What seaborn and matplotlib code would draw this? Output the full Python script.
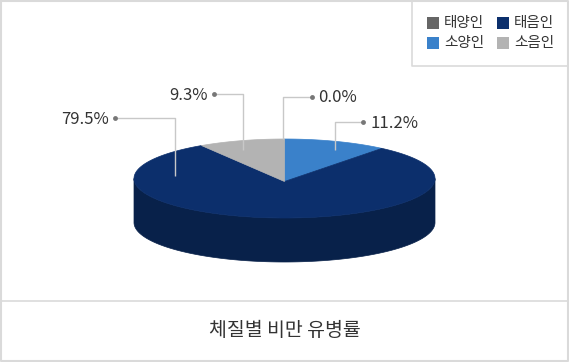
import numpy as np
import matplotlib
matplotlib.use("Agg")
import matplotlib.pyplot as plt
import seaborn as sns
from matplotlib.patches import Polygon, Rectangle

# ---- data ----
categories = ["태양인", "태음인", "소양인", "소음인"]
values = [0.0, 79.5, 11.2, 9.3]
value_labels = ["0.0%", "79.5%", "11.2%", "9.3%"]
pie_order = ["소양인", "태음인", "소음인", "태양인"]  # clockwise from 12 o'clock
title_text = "체질별 비만 유병률"

# ---- styles ----
top_colors = {"태양인": "#666666", "태음인": "#0c2f6c", "소양인": "#3a81ca", "소음인": "#b3b3b3"}
side_colors = {"태양인": "#4a4a4a", "태음인": "#08214a", "소양인": "#2a5f96", "소음인": "#8a8a8a"}
legend_colors = {"태양인": "#666666", "태음인": "#0c2f6c", "소양인": "#3a81ca", "소음인": "#b3b3b3"}

# label layout (pixel positions): dot, elbow, end, text pos, alignment
label_layout = {
    "태양인": dict(dot=(312, 97), elbow=(283, 97), end=(283, 139), text=(318, 97.5), ha="left"),
    "태음인": dict(dot=(115, 118), elbow=(175, 118), end=(175, 176), text=(109, 120), ha="right"),
    "소양인": dict(dot=(363, 122), elbow=(335, 122), end=(335, 150), text=(371, 123.5), ha="left"),
    "소음인": dict(dot=(214, 94), elbow=(243, 94), end=(243, 150), text=(208, 95), ha="right"),
}

sns.set_theme(style="white")
plt.rcParams['font.family'] = ['Noto Sans CJK KR', 'DejaVu Sans']

W, H = 569, 362
fig = plt.figure(figsize=(W / 100, H / 100), dpi=100)
ax = fig.add_axes([0, 0, 1, 1])
ax.set_xlim(0, W)
ax.set_ylim(H, 0)
ax.axis("off")

cx, cy, rx, ry, depth = 284.5, 178.5, 150.5, 39.5, 44


def arc(a0, a1, dy=0, n=200):
    t = np.radians(np.linspace(a0, a1, n))
    return np.column_stack([cx + rx * np.sin(t), cy - ry * np.cos(t) + dy])


val = dict(zip(categories, values))
total = sum(values)

# angular spans (clockwise from top)
start = 0.0
spans = {}
for c in pie_order:
    ang = val[c] / total * 360
    spans[c] = (start, start + ang)
    start += ang

# sides
for c in pie_order:
    a0, a1 = spans[c]
    lo, hi = max(a0, 90), min(a1, 270)
    if hi > lo:
        top = arc(lo, hi)
        bot = arc(hi, lo, dy=depth)
        ax.add_patch(Polygon(np.vstack([top, bot]), closed=True,
                             facecolor=side_colors[c], edgecolor=side_colors[c], lw=0.5))

# top faces
for c in pie_order:
    a0, a1 = spans[c]
    if a1 - a0 <= 0:
        continue
    pts = np.vstack([[cx, cy + 3], arc(a0, a1)])
    ax.add_patch(Polygon(pts, closed=True, facecolor=top_colors[c],
                         edgecolor=top_colors[c], lw=0.5))

# labels with leader lines
for c, lab in zip(categories, value_labels):
    L = label_layout[c]
    xs = [L["dot"][0], L["elbow"][0], L["end"][0]]
    ys = [L["dot"][1], L["elbow"][1], L["end"][1]]
    ax.plot(xs, ys, color="#c8c8c8", lw=1, solid_capstyle="butt")
    ax.plot([L["dot"][0]], [L["dot"][1]], "o", ms=3.5, color="#777777", mew=0)
    ax.text(L["text"][0], L["text"][1], lab, ha=L["ha"], va="center",
            fontsize=12, color="#333333")

# frame, divider
border = "#dadada"
ax.plot([0.5, W - 1, W - 1, 0.5, 0.5], [0.5, 0.5, H - 1, H - 1, 0.5], color=border, lw=1.5)
ax.plot([0, W], [301, 301], color=border, lw=1.2)
# legend box
ax.plot([412, 412, W], [0, 66, 66], color=border, lw=1.2)

leg_pos = [(427, 17), (497, 17), (427, 37), (497, 37)]
for c, (lx, ly) in zip(categories, leg_pos):
    ax.add_patch(Rectangle((lx, ly), 12, 12, facecolor=legend_colors[c], edgecolor="none"))
    ax.text(lx + 17, ly + 6, c, ha="left", va="center", fontsize=10.5, color="#333333")

ax.text(284.5, 331, title_text, ha="center", va="center", fontsize=14, color="#333333")

fig.savefig("out.png", dpi=100)
